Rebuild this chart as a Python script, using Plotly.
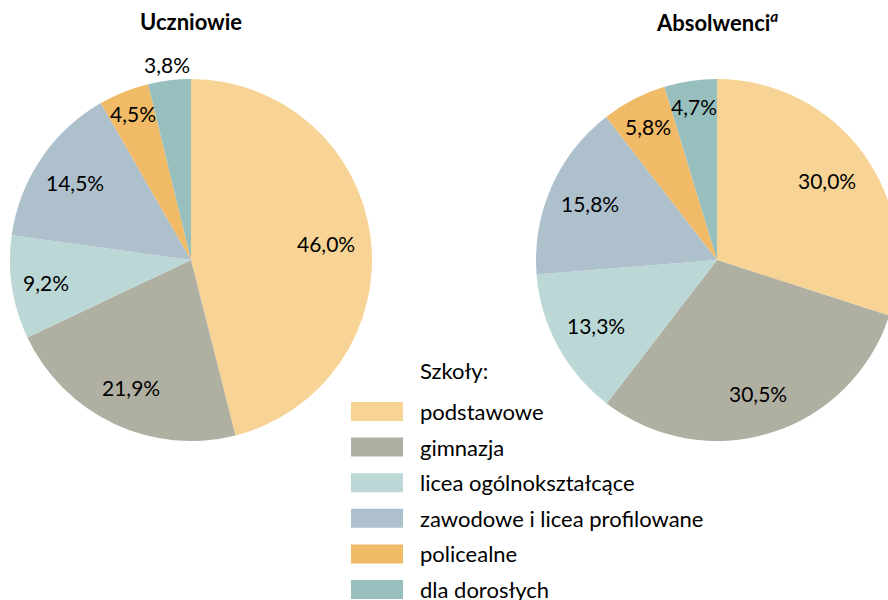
import math
import plotly.graph_objects as go

categories = ["podstawowe", "gimnazja", "licea ogólnokształcące",
              "zawodowe i licea profilowane", "policealne", "dla dorosłych"]
uczniowie = [46.0, 21.9, 9.2, 14.5, 4.5, 3.8]
absolwenci = [30.0, 30.5, 13.3, 15.8, 5.8, 4.7]
colors = ["#F7D495", "#B0B0A2", "#BCD8D6", "#AFC0CD", "#F0BA66", "#97BFBE"]
titles = ["Uczniowie", "Absolwenci<sup><i>a</i></sup>"]
legend_title = "Szkoły:"

# label distance from centre as a fraction of the radius (Excel "best fit" look)
label_radius = [[0.75, 0.78, 0.81, 0.77, 0.87, 1.09],
                [0.75, 0.77, 0.76, 0.77, 0.83, 0.86]]

W, H = 900, 600
FONT = "Lato"

def fmt(v):
    return f"{v:.1f}".replace(".", ",") + "%"

def px_x(p):
    return p / W

def px_y(p):
    return 1 - p / H

fig = go.Figure()
R = 181
centers = [(191, 260), (717, 260)]
series = [uczniowie, absolwenci]
annotations = []
for (cx, cy), vals, lr in zip(centers, series, label_radius):
    fig.add_trace(go.Pie(
        labels=categories, values=vals, textinfo="none",
        sort=False, direction="clockwise", rotation=0,
        marker=dict(colors=colors, line=dict(width=0)),
        domain=dict(x=[px_x(cx - R), px_x(cx + R)], y=[px_y(cy + R), px_y(cy - R)]),
        showlegend=False, hoverinfo="label+percent",
    ))
    tot = sum(vals)
    cum = 0.0
    for v, rf in zip(vals, lr):
        mid = (cum + v / 2) / tot
        cum += v
        th = 2 * math.pi * mid
        x = cx + rf * R * math.sin(th)
        y = cy - rf * R * math.cos(th)
        annotations.append(dict(x=px_x(x), y=px_y(y), xref="paper", yref="paper",
                                text=fmt(v), showarrow=False,
                                xanchor="center", yanchor="middle",
                                font=dict(family=FONT, size=21, color="#000000")))

for (cx, cy), t in zip(centers, titles):
    annotations.append(dict(x=px_x(cx), y=px_y(22), xref="paper", yref="paper",
                            text=f"<b>{t}</b>", showarrow=False,
                            font=dict(family=FONT, size=22, color="#000000"),
                            xanchor="center", yanchor="middle"))

# legend
LX0, LX1, LTX = 351, 403, 418
ly0, lstep, sh = 411.5, 35.6, 19
annotations.append(dict(x=px_x(LTX), y=px_y(370), xref="paper", yref="paper",
                        text=legend_title, showarrow=False, xanchor="left", yanchor="middle",
                        font=dict(family=FONT, size=22, color="#000000")))
shapes = []
for i, (c, col) in enumerate(zip(categories, colors)):
    yc = ly0 + i * lstep
    shapes.append(dict(type="rect", xref="paper", yref="paper",
                       x0=px_x(LX0), x1=px_x(LX1), y0=px_y(yc + sh / 2), y1=px_y(yc - sh / 2),
                       fillcolor=col, line=dict(width=0)))
    annotations.append(dict(x=px_x(LTX), y=px_y(yc), xref="paper", yref="paper",
                            text=c, showarrow=False, xanchor="left", yanchor="middle",
                            font=dict(family=FONT, size=22, color="#000000")))

fig.update_layout(
    width=W, height=H, margin=dict(l=0, r=0, t=0, b=0),
    paper_bgcolor="white", plot_bgcolor="white",
    annotations=annotations, shapes=shapes,
)

fig.write_html("out.html", config={"displayModeBar": False},
               post_script="document.body.style.margin='0';document.body.style.overflow='hidden';document.documentElement.style.overflow='hidden';")
